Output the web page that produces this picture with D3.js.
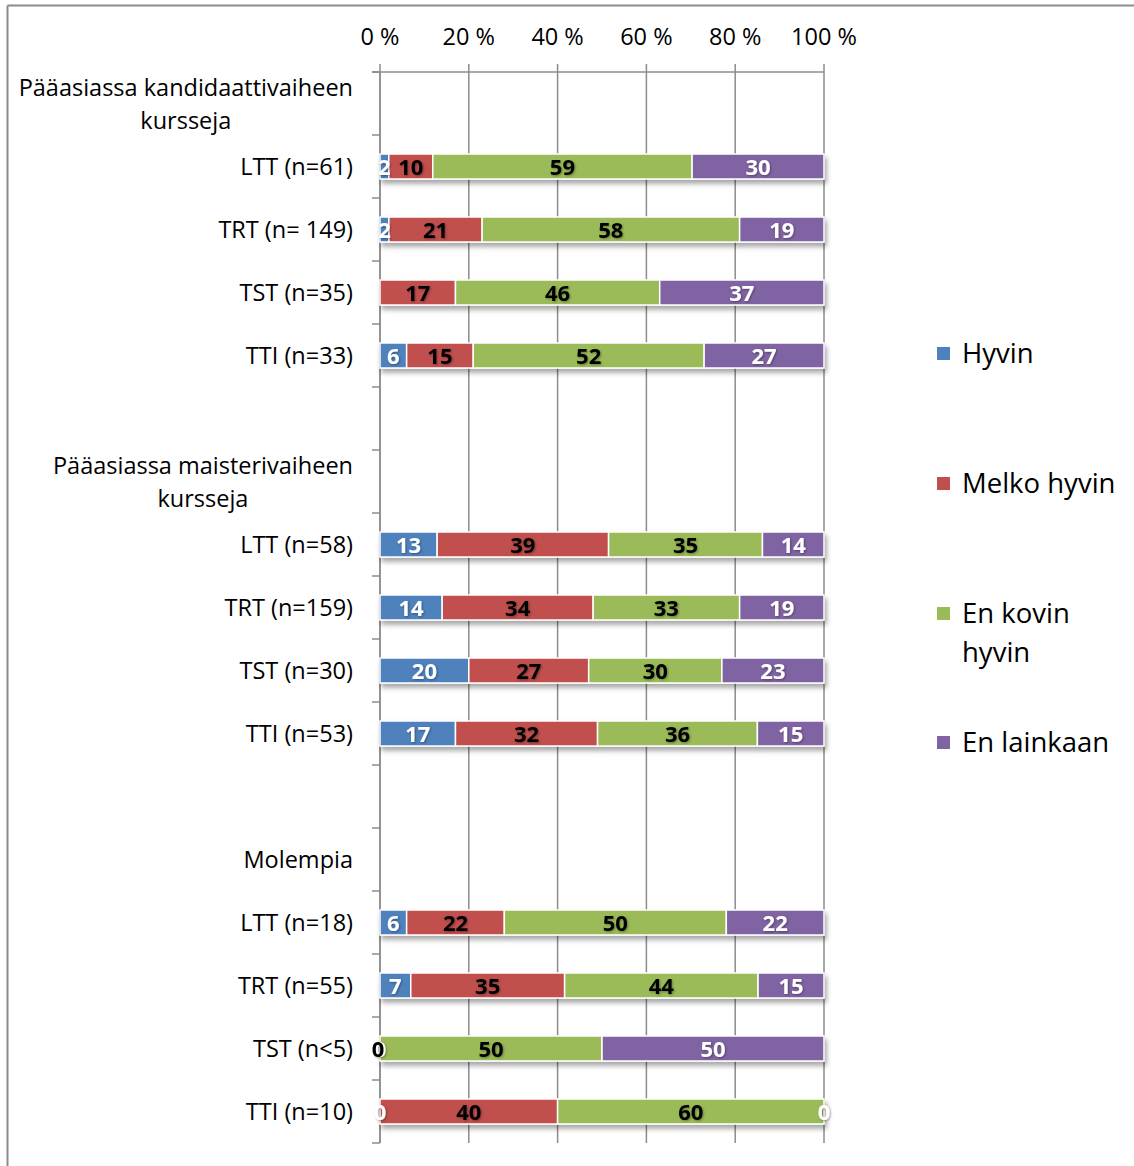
<!DOCTYPE html>
<html><head><meta charset="utf-8">
<script src="https://cdn.jsdelivr.net/npm/d3@7"></script>
<style>
body{margin:0;background:#fff;}
svg text{font-family:"Open Sans",Lato,sans-serif;}
</style></head>
<body><svg id="c" width="1134" height="1166"></svg>
<script>
const categories = [
  "Pääasiassa kandidaattivaiheen\nkursseja",
  "LTT (n=61)", "TRT (n= 149)", "TST (n=35)", "TTI (n=33)",
  "",
  "Pääasiassa maisterivaiheen\nkursseja",
  "LTT (n=58)", "TRT (n=159)", "TST (n=30)", "TTI (n=53)",
  "",
  "Molempia",
  "LTT (n=18)", "TRT (n=55)", "TST (n<5)", "TTI (n=10)"
];
const seriesNames = ["Hyvin", "Melko hyvin", "En kovin hyvin", "En lainkaan"];
const legendLines = [["Hyvin"], ["Melko hyvin"], ["En kovin", "hyvin"], ["En lainkaan"]];
const hyvin      = [null, 2, 2, null, 6, null, null, 13, 14, 20, 17, null, null, 6, 7, 0, 0];
const melkoHyvin = [null, 10, 21, 17, 15, null, null, 39, 34, 27, 32, null, null, 22, 35, 0, 40];
const enKovin    = [null, 59, 58, 46, 52, null, null, 35, 33, 30, 36, null, null, 50, 44, 50, 60];
const enLainkaan = [null, 30, 19, 37, 27, null, null, 14, 19, 23, 15, null, null, 22, 15, 50, 0];
const xTicks = [0, 20, 40, 60, 80, 100];
const colors = ["#4F81BD", "#C0504D", "#9BBB59", "#8064A2"];
const labelColors = ["#fff", "#000", "#000", "#fff"];

const series = [hyvin, melkoHyvin, enKovin, enLainkaan];
const svg = d3.select("#c");
const FS = 23.5;

// defs
const defs = svg.append("defs");
const f1 = defs.append("filter").attr("id","barShadow").attr("x","-5%").attr("y","-40%").attr("width","115%").attr("height","200%");
f1.append("feDropShadow").attr("dx",2).attr("dy",4).attr("stdDeviation",2.5).attr("flood-color","#000").attr("flood-opacity",0.35);
const f2 = defs.append("filter").attr("id","txtShadow").attr("x","-30%").attr("y","-30%").attr("width","160%").attr("height","160%");
f2.append("feDropShadow").attr("dx",1).attr("dy",1).attr("stdDeviation",0.8).attr("flood-color","#000").attr("flood-opacity",0.35);

// frame
svg.append("line").attr("x1",7.5).attr("x2",1134).attr("y1",5.5).attr("y2",5.5).attr("stroke","#8c8c8c").attr("stroke-width",2);
svg.append("line").attr("x1",7.5).attr("x2",7.5).attr("y1",5.5).attr("y2",1166).attr("stroke","#8c8c8c").attr("stroke-width",2);

const x = d3.scaleLinear().domain([0, 100]).range([380, 824]);
const y = d3.scaleBand().domain(d3.range(categories.length)).range([72, 1143]).paddingInner(0).paddingOuter(0);
const barH = 25;

// gridlines
svg.append("g").selectAll("line").data(xTicks).join("line")
  .attr("x1", d => x(d)).attr("x2", d => x(d)).attr("y1", 64).attr("y2", 1143)
  .attr("stroke", "#8c8c8c").attr("stroke-width", 1.5);
svg.append("line").attr("x1", 372).attr("x2", x(100)).attr("y1", 72).attr("y2", 72).attr("stroke","#8c8c8c").attr("stroke-width",1.5);
svg.append("g").selectAll("text").data(xTicks).join("text")
  .attr("x", d => x(d)).attr("y", 45).attr("text-anchor","middle")
  .attr("font-size", FS).attr("fill","#000").text(d => d + " %");

// y axis
svg.append("line").attr("x1",380).attr("x2",380).attr("y1",72).attr("y2",1143).attr("stroke","#8c8c8c").attr("stroke-width",1.5);
const bounds = d3.range(categories.length + 1).map(i => i === categories.length ? y.range()[1] : y(i));
svg.append("g").selectAll("line").data(bounds).join("line")
  .attr("x1",372).attr("x2",380).attr("y1",d=>d).attr("y2",d=>d).attr("stroke","#8c8c8c").attr("stroke-width",1.5);

// category labels
const catG = svg.append("g");
categories.forEach((c, i) => {
  if (!c) return;
  const lines = c.split("\n");
  const cy = y(i) + y.bandwidth() / 2;
  if (lines.length === 1) {
    catG.append("text").attr("x", 353).attr("y", cy + 8).attr("text-anchor","end")
      .attr("font-size", FS).attr("fill","#000").text(c);
  } else {
    const t = catG.append("text").attr("font-size", FS).attr("fill","#000").attr("text-anchor","middle");
    const tmp = catG.append("text").attr("font-size",FS).text(lines[0]);
    const w = tmp.node().getComputedTextLength(); tmp.remove();
    const center = 353 - w / 2;
    lines.forEach((ln, k) => {
      t.append("tspan").attr("x", center).attr("y", cy - 16 + k * 33 + 8).text(ln);
    });
  }
});

// stacked data
const rows = categories.map((c, i) => {
  const vals = series.map(s => s[i]);
  if (vals.every(v => v === null)) return null;
  const total = d3.sum(vals, v => v || 0);
  let acc = 0;
  return vals.map((v, k) => {
    const x0 = acc / total * 100;
    acc += (v || 0);
    const x1 = acc / total * 100;
    return {i, k, v, x0, x1};
  });
}).filter(r => r);

const barsG = svg.append("g").attr("filter","url(#barShadow)");
rows.forEach(r => {
  barsG.selectAll(null).data(r.filter(d => d.v)).enter().append("rect")
    .attr("x", d => x(d.x0)).attr("width", d => x(d.x1) - x(d.x0))
    .attr("y", d => y(d.i) + y.bandwidth()/2 - barH/2).attr("height", barH)
    .attr("fill", d => colors[d.k]).attr("stroke","#fff").attr("stroke-width",1.5);
});
const lblG = svg.append("g").attr("filter","url(#txtShadow)");
rows.forEach(r => {
  lblG.selectAll(null).data(r.filter(d => d.v !== null)).enter().append("text")
    .attr("x", d => (x(d.x0) + x(d.x1)) / 2 - (d.v === 0 && d.k === 1 ? 2 : 0))
    .attr("y", d => y(d.i) + y.bandwidth()/2 + 8.5)
    .attr("text-anchor","middle").attr("font-size", 22).attr("font-weight","bold")
    .attr("fill", d => labelColors[d.k]).text(d => d.v);
});

// legend
const legY = [353, 483, 613, 742];
const leg = svg.append("g");
seriesNames.forEach((s, k) => {
  leg.append("rect").attr("x", 937).attr("y", legY[k] - 6).attr("width", 13).attr("height", 13).attr("fill", colors[k]);
  const t = leg.append("text").attr("font-size", 27.5).attr("fill","#000");
  legendLines[k].forEach((ln, j) => {
    t.append("tspan").attr("x", 962).attr("y", legY[k] + 10 + j * 39).text(ln);
  });
});
</script></body></html>
